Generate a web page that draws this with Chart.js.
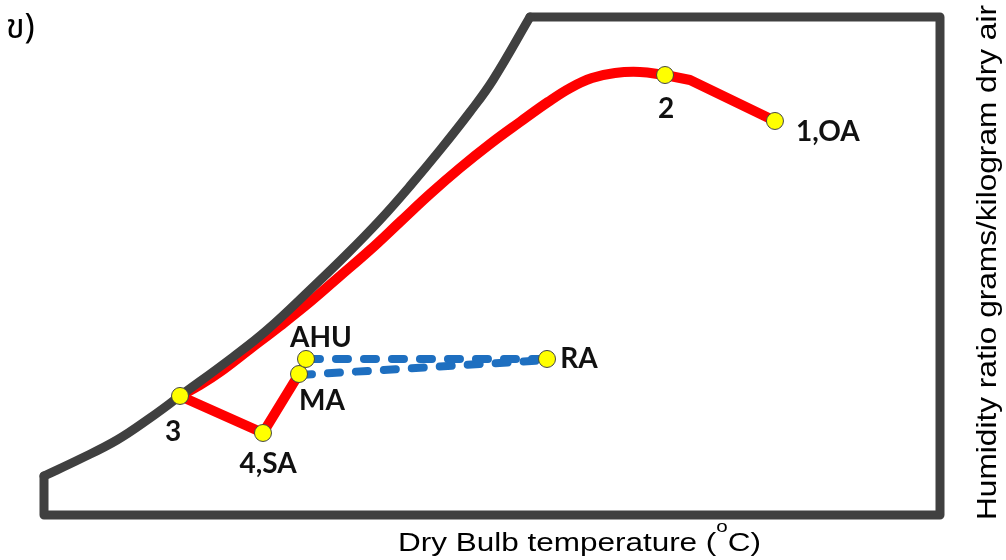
<!DOCTYPE html>
<html>
<head>
<meta charset="utf-8">
<script src="https://cdn.jsdelivr.net/npm/chart.js@4.4.1/dist/chart.umd.min.js"></script>
<style>
  body { margin: 0; background: #fff; }
  #wrap { width: 1006px; height: 560px; position: relative; }
</style>
</head>
<body>
<div id="wrap"><canvas id="psyChart"></canvas></div>
<script>
// schematic units: x 0..100 (dry bulb), y 0..100 (humidity ratio)
var satX = [54.24, 50.11, 47.54, 44.20, 40.85, 37.50, 33.82, 30.02, 24.89, 21.09, 15.18, 11.83, 8.15, 4.02, 0];
var satY = [100.0, 87.35, 80.92, 73.29, 66.06, 59.24, 52.41, 45.78, 37.15, 31.73, 23.90, 19.48, 15.06, 11.24, 7.83];

var boxX = [0, 0, 100, 100, 54.24];
var boxY = [7.83, 0, 0, 100, 100];

// 1,OA -> 2
var oaX = [81.58, 72.10, 69.31];
var oaY = [79.12, 87.35, 88.35];

// 2 -> 3 (cooling along the coil)
var coilX = [69.31, 66.52, 63.73, 61.16, 58.71, 56.25, 53.13, 49.78, 46.43, 43.08, 39.73, 36.38, 33.04, 29.69, 26.34, 22.99, 19.64, 17.41, 15.18];
var coilY = [88.35, 88.96, 88.76, 87.75, 85.74, 82.93, 78.92, 74.50, 69.68, 64.46, 58.84, 53.21, 47.99, 42.77, 37.95, 33.33, 28.71, 26.10, 23.90];

// 3 -> 4,SA -> MA
var supX = [15.18, 24.44, 28.46];
var supY = [23.90, 16.47, 28.31];

// return air lines
var ahuRaX = [29.46, 56.14];
var ahuRaY = [31.33, 31.33];
var maRaX = [28.57, 56.14];
var maRaY = [28.11, 31.12];

var pointNames = ['1,OA', '2', '3', '4,SA', 'MA', 'AHU', 'RA'];
var pointX = [81.58, 69.31, 15.18, 24.44, 28.46, 29.24, 56.14];
var pointY = [79.12, 88.35, 23.90, 16.47, 28.31, 31.33, 31.33];

function xy(xs, ys) {
	var out = [];
	for (var i = 0; i < xs.length; i++) out.push({x: xs[i], y: ys[i]});
	return out;
}

// label offsets in px from each marker (centre x, baseline y)
var labelOff = {
	'1,OA': [53, 20], '2': [1, 43], '3': [-7, 45], '4,SA': [5, 40],
	'MA': [23, 36], 'AHU': [15, -12], 'RA': [32, 9]
};

var labelPlugin = {
	id: 'labels',
	afterDatasetsDraw: function(chart) {
		var ctx = chart.ctx;
		var meta = chart.getDatasetMeta(0);
		ctx.save();
		ctx.font = 'bold 28px Lato, "Open Sans", sans-serif';
		ctx.fillStyle = '#111';
		ctx.textAlign = 'center';
		ctx.textBaseline = 'alphabetic';
		meta.data.forEach(function(pt, i) {
			var o = labelOff[pointNames[i]];
			ctx.fillText(pointNames[i], pt.x + o[0], pt.y + o[1]);
		});
		ctx.restore();
	},
	afterDraw: function(chart) {
		var ctx = chart.ctx;
		ctx.save();
		ctx.fillStyle = '#000';
		ctx.textAlign = 'left';
		ctx.textBaseline = 'alphabetic';

		// x title with superscript o
		ctx.font = '26px "Liberation Sans", Arial, sans-serif';
		var p1 = 'Dry Bulb temperature (', p3 = 'C)';
		var w1 = ctx.measureText(p1).width, w3 = ctx.measureText(p3).width;
		ctx.font = '17px "Liberation Sans", Arial, sans-serif';
		var w2 = ctx.measureText('o').width;
		var s = 363 / (w1 + w2 + w3);
		ctx.save();
		ctx.translate(398, 551);
		ctx.scale(s, 1);
		ctx.font = '26px "Liberation Sans", Arial, sans-serif';
		ctx.fillText(p1, 0, 0);
		ctx.font = '17px "Liberation Sans", Arial, sans-serif';
		ctx.fillText('o', w1, -19);
		ctx.font = '26px "Liberation Sans", Arial, sans-serif';
		ctx.fillText(p3, w1 + w2, 0);
		ctx.restore();

		// y title on the right
		ctx.save();
		ctx.font = '28px "Liberation Sans", Arial, sans-serif';
		var yt = 'Humidity ratio grams/kilogram dry air';
		var wy = ctx.measureText(yt).width;
		ctx.translate(996, 520);
		ctx.rotate(-Math.PI / 2);
		ctx.scale(515 / wy, 1);
		ctx.fillText(yt, 0, 0);
		ctx.restore();

		// panel tag
		ctx.font = '34px "Noto Sans Thai", "Noto Sans", "DejaVu Sans", sans-serif';
		ctx.fillText('ข)', 6, 38);
		ctx.restore();
	}
};

var ctx = document.getElementById('psyChart');
var psyChart = new Chart(ctx, {
	type: 'scatter',
	data: {
		datasets: [{
			data: xy(pointX, pointY),
			pointRadius: 8.5,
			pointBackgroundColor: '#ffff00',
			pointBorderColor: '#444',
			pointBorderWidth: 1,
			showLine: false,
			order: 0,
			clip: false
		}, {
			data: xy(satX, satY),
			showLine: true, tension: 0.4, pointRadius: 0,
			borderColor: '#404040', borderWidth: 9,
			borderCapStyle: 'round', borderJoinStyle: 'round',
			order: 1, clip: false
		}, {
			data: xy(boxX, boxY),
			showLine: true, tension: 0, pointRadius: 0,
			borderColor: '#404040', borderWidth: 9,
			borderCapStyle: 'round', borderJoinStyle: 'round',
			order: 1, clip: false
		}, {
			data: xy(oaX, oaY),
			showLine: true, tension: 0, pointRadius: 0,
			borderColor: '#ff0000', borderWidth: 10,
			borderCapStyle: 'round', borderJoinStyle: 'round',
			order: 2, clip: false
		}, {
			data: xy(coilX, coilY),
			showLine: true, tension: 0.4, pointRadius: 0,
			borderColor: '#ff0000', borderWidth: 10,
			borderCapStyle: 'round', borderJoinStyle: 'round',
			order: 2, clip: false
		}, {
			data: xy(supX, supY),
			showLine: true, tension: 0, pointRadius: 0,
			borderColor: '#ff0000', borderWidth: 10,
			borderCapStyle: 'butt', borderJoinStyle: 'miter',
			order: 2, clip: false
		}, {
			data: xy(ahuRaX, ahuRaY),
			showLine: true, tension: 0, pointRadius: 0,
			borderColor: '#1e6fc0', borderWidth: 8,
			borderDash: [12, 16], borderCapStyle: 'round',
			order: 2, clip: false
		}, {
			data: xy(maRaX, maRaY),
			showLine: true, tension: 0, pointRadius: 0,
			borderColor: '#1e6fc0', borderWidth: 8,
			borderDash: [12, 16], borderCapStyle: 'round',
			order: 2, clip: false
		}]
	},
	options: {
		responsive: true,
		maintainAspectRatio: false,
		animation: false,
		layout: { padding: { left: 44, right: 66, top: 17, bottom: 45 } },
		scales: {
			x: { type: 'linear', min: 0, max: 100, display: false },
			y: { type: 'linear', min: 0, max: 100, display: false }
		},
		plugins: {
			legend: { display: false },
			tooltip: { enabled: false }
		}
	},
	plugins: [labelPlugin]
});
</script>
</body>
</html>
